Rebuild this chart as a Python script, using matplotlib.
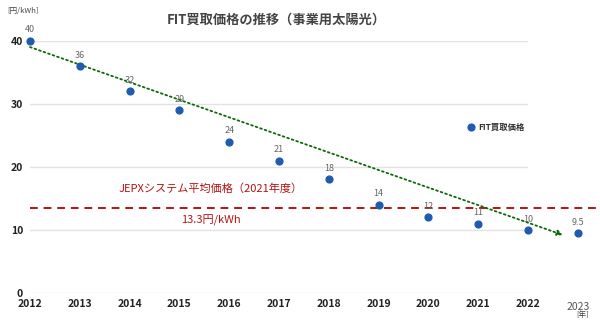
import matplotlib
matplotlib.use('Agg')
import matplotlib.pyplot as plt

plt.rcParams['font.family'] = ['Noto Sans CJK JP', 'DejaVu Sans']

# FIT買取価格（事業用太陽光）
years = [2012, 2013, 2014, 2015, 2016, 2017, 2018, 2019, 2020, 2021, 2022, 2023]
prices = [40, 36, 32, 29, 24, 21, 18, 14, 12, 11, 10, 9.5]
labels = ['40', '36', '32', '29', '24', '21', '18', '14', '12', '11', '10', '9.5']

jepx_price = 13.3
trend_start = (2012, 39.0)
trend_end = (2022.7, 9.2)

blue = '#1f5bb0'
red = '#b51212'

fig = plt.figure(figsize=(6, 3.25), dpi=100)
ax = fig.add_axes([0.05, 0.0985, 0.83, 0.776])

ax.set_xlim(2012, 2022)
ax.set_ylim(0, 40)
ax.set_yticks([0, 10, 20, 30, 40])
ax.set_xticks(years[:-1])
ax.grid(axis='y', color='#e2e2e2', linewidth=1)
ax.set_axisbelow(True)
for s in ax.spines.values():
    s.set_visible(False)
ax.tick_params(length=0, labelsize=7.5, pad=4)
for t in ax.get_xticklabels() + ax.get_yticklabels():
    t.set_fontweight('bold')
    t.set_color('#222222')
ax.tick_params(axis='y', pad=5)

# 2023 (軸外)
ax.text(2023, -1.5, '2023', ha='center', va='top', fontsize=7.5, color='#555555')
ax.text(2023.1, -3.55, '[年]', ha='center', va='center', fontsize=5.5, color='#444444')
ax.text(-0.045, 1.12, '[円/kWh]', transform=ax.transAxes, fontsize=5.5,
        color='#444444', va='center')

# JEPX line
ax.plot([2012, 2023.6], [jepx_price + 0.2] * 2, color=red, linestyle=(0, (4, 3)),
        linewidth=1.4, clip_on=False, zorder=2)
ax.text(2015.63, 16.6, 'JEPXシステム平均価格（2021年度）', color=red, fontsize=8,
        ha='center', va='center')
ax.text(2015.63, 11.6, '13.3円/kWh', color=red, fontsize=8, ha='center', va='center')

# trend arrow
ax.annotate('', xy=trend_end, xytext=trend_start,
            arrowprops=dict(arrowstyle='-|>', color='#0b6b0b', linestyle=':',
                            linewidth=1.3, mutation_scale=8,
                            shrinkA=0, shrinkB=0),
            annotation_clip=False, zorder=3)

ax.scatter(years, prices, s=24, color=blue, zorder=4, clip_on=False)
for x, y, l in zip(years, prices, labels):
    ax.text(x, y + 1.0, l, ha='center', va='bottom', fontsize=6.5, color='#666666',
            zorder=5)

# legend
ax.scatter([2020.85], [26.3], s=24, color=blue, clip_on=False)
ax.text(2021.0, 26.3, 'FIT買取価格', fontsize=6, fontweight='bold', color='#333333',
        va='center')

fig.text(0.46, 0.94, 'FIT買取価格の推移（事業用太陽光）', ha='center', va='center',
         fontsize=9.5, fontweight='bold', color='#444444')

fig.savefig('out.png', dpi=100)
